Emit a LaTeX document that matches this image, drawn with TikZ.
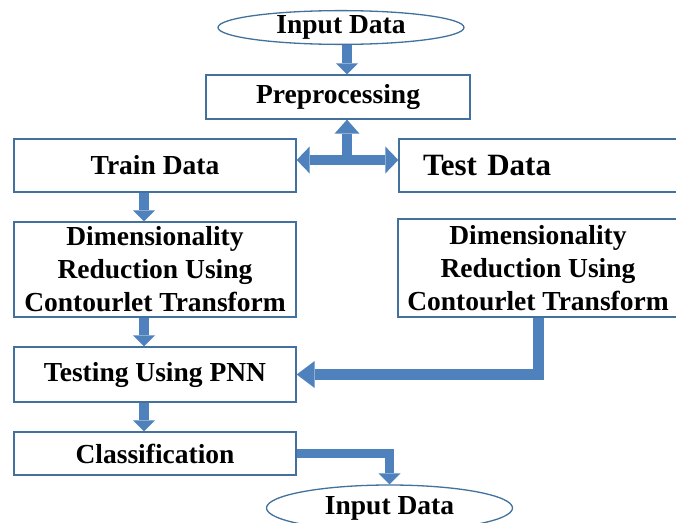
\documentclass[tikz,border=0pt]{standalone}
\usepackage{fontspec}
\setmainfont{Liberation Serif}
\usetikzlibrary{shapes.geometric,arrows.meta}
\definecolor{boxblue}{RGB}{65,113,156}
\definecolor{arrowblue}{RGB}{79,129,189}

\begin{document}
\begin{tikzpicture}[x=1pt,y=-1pt]
    \tikzstyle{box}=[rectangle,draw=boxblue,line width=1.3pt,fill=white,inner sep=2pt,align=center,font=\fontsize{27.5}{33}\selectfont\bfseries]
    \tikzstyle{terminal}=[ellipse,draw=boxblue,line width=1.3pt,fill=white,inner sep=0pt,minimum width=246pt,font=\fontsize{27.5}{33}\selectfont\bfseries]
    \tikzstyle{flow}=[draw=arrowblue,line width=10pt,-{Triangle[width=22pt,length=11pt,line width=0pt]}]
    \tikzstyle{bigflow}=[draw=arrowblue,line width=11pt,-{Triangle[width=27pt,length=18pt,line width=0pt]}]
    \tikzstyle{twoway}=[draw=arrowblue,line width=10pt,{Triangle[width=27pt,length=13pt,line width=0pt]}-{Triangle[width=27pt,length=13pt,line width=0pt]}]
    \useasboundingbox (0,0) rectangle (676,522);
    \node (in)[terminal,minimum height=31pt] at (341,27.5) {Input Data};
    \node (prep)[box,minimum width=264pt,minimum height=44pt] at (338,97) {Preprocessing};
    \node (train)[box,minimum width=282pt,minimum height=53pt] at (155,165.5) {Train Data};
    \node (test)[box,font=\fontsize{31}{36}\selectfont\bfseries,align=left,text width=233pt,inner xsep=24pt,minimum height=53pt] at (539.5,165.5) {Test Data};
    \node (dr1)[box,minimum width=282pt,minimum height=95pt] at (155,269.5) {Dimensionality\\Reduction Using\\Contourlet Transform};
    \node (dr2)[box,minimum width=280pt,minimum height=98pt] at (538,268) {Dimensionality\\Reduction Using\\Contourlet Transform};
    \node (pnn)[box,minimum width=282pt,minimum height=55pt] at (155,374.5) {Testing Using PNN};
    \node (cls)[box,minimum width=282pt,minimum height=43pt] at (155,453.5) {Classification};
    \node (out)[terminal,minimum height=46pt] at (389.5,508) {Input Data};
    \coordinate (fork) at (347,160);
    \coordinate (lcol) at (144,0);
    \draw[flow] (fork |- in.south) -- (fork |- prep.north);
    \draw[flow,-{Triangle[width=25pt,length=14pt,line width=0pt]}] (fork) -- (fork |- prep.south);
    \draw[twoway] (train.east |- fork) -- (test.west |- fork);
    \draw[flow] (lcol |- train.south) -- (lcol |- dr1.north);
    \draw[flow] (lcol |- dr1.south) -- (lcol |- pnn.north);
    \draw[flow] (lcol |- pnn.south) -- (lcol |- cls.north);
    \draw[bigflow] (dr2.south) |- (pnn.east);
    \draw[flow,line width=9pt] (cls.east) -| (out.north);
\end{tikzpicture}
\end{document}
